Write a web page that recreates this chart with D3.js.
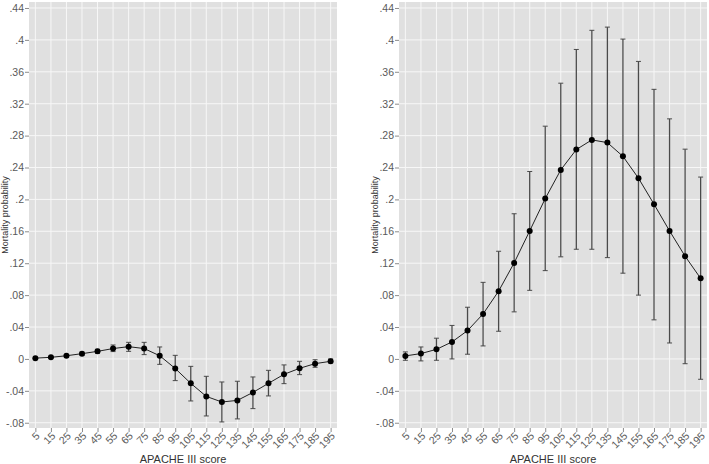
<!DOCTYPE html>
<html>
<head>
<meta charset="utf-8">
<script src="https://cdn.jsdelivr.net/npm/d3@7"></script>
<style>
  body { margin: 0; background: #fff; }
  svg { display: block; font-family: "Liberation Sans", Arial, sans-serif; }
</style>
</head>
<body>
<svg id="chart" width="709" height="464"></svg>
<script>
// APACHE III score categories
const scores = [5, 15, 25, 35, 45, 55, 65, 75, 85, 95, 105, 115, 125, 135, 145, 155, 165, 175, 185, 195]

// left panel: estimate and 95% CI
const leftEst = [0.001, 0.002, 0.004, 0.0066, 0.0095, 0.013, 0.0154, 0.013, 0.004, -0.012, -0.0306, -0.047, -0.054, -0.052, -0.042, -0.0306, -0.0193, -0.0118, -0.0059, -0.003]
const leftHi = [0.0015, 0.003, 0.0055, 0.0085, 0.012, 0.0175, 0.0208, 0.0208, 0.015, 0.0045, -0.0093, -0.0218, -0.0289, -0.028, -0.0226, -0.0143, -0.0075, -0.003, -0.001, 0]
const leftLo = [0.0005, 0.001, 0.0025, 0.0047, 0.007, 0.0092, 0.0095, 0.0054, -0.0068, -0.0272, -0.0527, -0.0715, -0.079, -0.0752, -0.0623, -0.0464, -0.031, -0.0197, -0.0105, -0.005]

// right panel
const rightEst = [0.0038, 0.0067, 0.012, 0.0213, 0.0355, 0.0564, 0.085, 0.1204, 0.1605, 0.201, 0.237, 0.2625, 0.2746, 0.2712, 0.254, 0.2266, 0.194, 0.1605, 0.1288, 0.101]
const rightHi = [0.0088, 0.015, 0.026, 0.042, 0.0648, 0.096, 0.135, 0.182, 0.235, 0.2918, 0.3457, 0.388, 0.412, 0.416, 0.401, 0.373, 0.338, 0.301, 0.263, 0.228]
const rightLo = [-0.0017, -0.0025, -0.0017, 0, 0.0059, 0.0163, 0.0347, 0.059, 0.086, 0.1107, 0.128, 0.1375, 0.1375, 0.127, 0.1075, 0.08, 0.049, 0.02, -0.006, -0.0255]

const yTicks = [-0.08, -0.04, 0, 0.04, 0.08, 0.12, 0.16, 0.2, 0.24, 0.28, 0.32, 0.36, 0.4, 0.44]

const svg = d3.select('#chart')
const plotTop = 2, plotBottom = 428

const y = d3.scaleLinear().domain([-0.0866, 0.4475]).range([plotBottom, plotTop])

// Stata style labels: .44, -.04, 0
const fmt = v => {
  const s = d3.format('.2~f')(v).replace('\u2212', '-')
  return s.replace(/^0\./, '.').replace(/^-0\./, '-.')
}

function drawPanel(x0, x1, est, lo, hi) {
  const g = svg.append('g')
  const x = d3.scalePoint().domain(scores).range([x0, x1]).padding(0.41)
  const rows = scores.map((s, i) => ({s: s, est: est[i], lo: lo[i], hi: hi[i]}))

  g.append('rect')
    .attr('x', x0).attr('y', plotTop)
    .attr('width', x1 - x0).attr('height', plotBottom - plotTop)
    .attr('fill', '#e0e0e0')

  // grid
  g.selectAll('.hgrid').data(yTicks).enter().append('line')
    .attr('x1', x0).attr('x2', x1)
    .attr('y1', d => y(d)).attr('y2', d => y(d))
    .attr('stroke', '#f7f7f7').attr('stroke-width', 1)
  g.selectAll('.vgrid').data(scores).enter().append('line')
    .attr('x1', d => x(d)).attr('x2', d => x(d))
    .attr('y1', plotTop).attr('y2', plotBottom)
    .attr('stroke', '#f7f7f7').attr('stroke-width', 1)

  // axes
  const yAxis = g.append('g').attr('transform', `translate(${x0},0)`)
    .call(d3.axisLeft(y).tickValues(yTicks).tickFormat(fmt).tickSize(4).tickPadding(1))
  yAxis.select('.domain').remove()
  yAxis.selectAll('line').attr('stroke', '#8c8c8c')
  yAxis.selectAll('text').attr('fill', '#5a5a5a').style('font-size', '10.5px')

  const xAxis = g.append('g').attr('transform', `translate(0,${plotBottom})`)
    .call(d3.axisBottom(x).tickSize(4).tickPadding(2))
  xAxis.select('.domain').remove()
  xAxis.selectAll('line').attr('stroke', '#8c8c8c')
  xAxis.selectAll('text')
    .attr('fill', '#5a5a5a').style('font-size', '10.5px')
    .attr('text-anchor', 'end')
    .attr('dy', '0.35em')
    .attr('transform', 'translate(2,6) rotate(-45)')
    .attr('y', 0).attr('x', 0)

  g.append('text')
    .attr('x', (x0 + x1) / 2).attr('y', 463)
    .attr('text-anchor', 'middle')
    .attr('fill', '#333').style('font-size', '11px')
    .text('APACHE III score')

  g.append('text')
    .attr('transform', `translate(${x0 - 21},${(plotTop + plotBottom) / 2}) rotate(-90)`)
    .attr('text-anchor', 'middle')
    .attr('fill', '#333').style('font-size', '9px')
    .text('Mortality probability')

  // error bars
  const eb = g.selectAll('.eb').data(rows).enter().append('g')
  eb.append('line')
    .attr('x1', d => x(d.s)).attr('x2', d => x(d.s))
    .attr('y1', d => y(d.hi)).attr('y2', d => y(d.lo))
    .attr('stroke', '#4a4a4a').attr('stroke-width', 1.3)
  eb.append('line')
    .attr('x1', d => x(d.s) - 2.5).attr('x2', d => x(d.s) + 2.5)
    .attr('y1', d => y(d.hi)).attr('y2', d => y(d.hi))
    .attr('stroke', '#4a4a4a').attr('stroke-width', 1)
  eb.append('line')
    .attr('x1', d => x(d.s) - 2.5).attr('x2', d => x(d.s) + 2.5)
    .attr('y1', d => y(d.lo)).attr('y2', d => y(d.lo))
    .attr('stroke', '#4a4a4a').attr('stroke-width', 1)

  // connecting line
  g.append('path').datum(rows)
    .attr('d', d3.line().x(d => x(d.s)).y(d => y(d.est)))
    .attr('fill', 'none').attr('stroke', '#222').attr('stroke-width', 1)

  g.selectAll('.pt').data(rows).enter().append('circle')
    .attr('cx', d => x(d.s)).attr('cy', d => y(d.est))
    .attr('r', 3).attr('fill', '#000')
}

drawPanel(29, 337, leftEst, leftLo, leftHi)
drawPanel(399, 707, rightEst, rightLo, rightHi)
</script>
</body>
</html>
